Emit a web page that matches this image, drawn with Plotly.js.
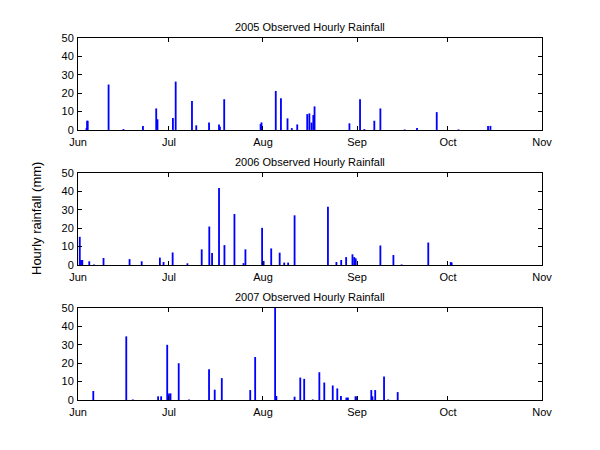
<!DOCTYPE html>
<html>
<head>
<meta charset="utf-8">
<script src="https://cdn.plot.ly/plotly-3.0.1.min.js"></script>
<style>body{margin:0;background:#fff}</style>
</head>
<body>
<div id="chart" style="width:600px;height:450px"></div>
<script>
/* hourly rainfall, mm */
var dates2005 = ['2005-06-03 19:00','2005-06-04 00:00','2005-06-04 05:00','2005-06-11 02:00','2005-06-16 00:00',
    '2005-06-22 10:00','2005-06-26 19:00','2005-06-27 05:00','2005-07-02 07:00','2005-07-03 05:00',
    '2005-07-08 14:00','2005-07-10 00:00','2005-07-14 05:00','2005-07-17 12:00','2005-07-17 19:00',
    '2005-07-19 05:00','2005-07-31 05:00','2005-07-31 12:00','2005-08-05 05:00','2005-08-06 22:00',
    '2005-08-09 02:00','2005-08-10 12:00','2005-08-12 07:00','2005-08-15 14:00','2005-08-16 07:00',
    '2005-08-17 00:00','2005-08-17 14:00','2005-08-18 00:00','2005-08-29 12:00','2005-09-02 00:00',
    '2005-09-03 10:00','2005-09-06 17:00','2005-09-08 17:00','2005-09-16 17:00','2005-09-20 19:00',
    '2005-09-27 07:00','2005-10-04 12:00','2005-10-14 05:00','2005-10-15 00:00'];
var rain2005 = [1.0, 5.0, 5.0, 24.7, 0.5,
    2.2, 11.7, 5.8, 6.5, 26.3,
    15.8, 2.5, 4.1, 3.0, 1.8,
    16.7, 3.2, 4.1, 21.2, 17.3,
    6.3, 1.0, 3.0, 8.6, 9.0,
    4.0, 8.1, 12.8, 3.6, 16.7,
    0.5, 5.0, 11.7, 0.3, 1.0,
    9.7, 0.3, 2.2, 2.2];

var dates2006 = ['2006-06-01 14:00','2006-06-02 00:00','2006-06-02 10:00','2006-06-04 17:00','2006-06-06 07:00',
    '2006-06-09 10:00','2006-06-18 00:00','2006-06-22 00:00','2006-06-28 00:00','2006-06-29 05:00',
    '2006-07-02 05:00','2006-07-07 02:00','2006-07-11 19:00','2006-07-14 07:00','2006-07-15 05:00',
    '2006-07-17 12:00','2006-07-19 07:00','2006-07-22 14:00','2006-07-25 14:00','2006-07-26 05:00',
    '2006-07-31 17:00','2006-08-01 05:00','2006-08-03 17:00','2006-08-06 12:00','2006-08-08 00:00',
    '2006-08-09 07:00','2006-08-11 10:00','2006-08-22 10:00','2006-08-25 05:00','2006-08-26 19:00',
    '2006-08-28 10:00','2006-08-30 12:00','2006-08-31 02:00','2006-08-31 14:00','2006-09-08 17:00',
    '2006-09-13 00:00','2006-09-15 17:00','2006-09-24 12:00','2006-10-01 22:00','2006-10-02 05:00'];
var rain2006 = [15.3, 2.7, 2.7, 2.0, 0.3,
    3.8, 3.2, 2.0, 4.0, 1.6,
    6.8, 0.9, 8.5, 20.9, 6.5,
    41.9, 10.8, 27.7, 1.0, 8.5,
    20.2, 2.2, 9.0, 6.7, 1.3,
    1.3, 27.0, 31.7, 1.6, 2.7,
    4.3, 5.8, 4.3, 3.6, 10.6,
    5.4, 0.3, 12.2, 1.6, 1.3];

var dates2007 = ['2007-06-06 01:00','2007-06-16 22:00','2007-06-19 02:00','2007-06-27 10:00','2007-06-28 10:00',
    '2007-06-30 10:00','2007-07-01 00:00','2007-07-01 12:00','2007-07-04 05:00','2007-07-07 14:00',
    '2007-07-14 05:00','2007-07-16 02:00','2007-07-18 10:00','2007-07-27 19:00','2007-07-29 10:00',
    '2007-08-05 00:00','2007-08-05 10:00','2007-08-11 10:00','2007-08-13 07:00','2007-08-14 14:00',
    '2007-08-17 10:00','2007-08-19 14:00','2007-08-21 05:00','2007-08-24 00:00','2007-08-25 12:00',
    '2007-08-26 17:00','2007-08-28 12:00','2007-08-29 00:00','2007-08-31 12:00','2007-09-01 00:00',
    '2007-09-05 17:00','2007-09-06 02:00','2007-09-07 00:00','2007-09-09 22:00','2007-09-11 07:00',
    '2007-09-14 10:00'];
var rain2007 = [4.9, 34.6, 0.3, 2.0, 2.0,
    30.0, 3.6, 3.6, 20.0, 0.3,
    16.7, 5.6, 11.9, 5.4, 23.4,
    50.0, 2.2, 1.8, 12.2, 11.5,
    0.3, 15.1, 9.5, 7.9, 6.3,
    2.2, 1.3, 1.3, 2.0, 2.0,
    5.4, 2.0, 5.4, 12.8, 0.3,
    4.3];

var years = ['2005', '2006', '2007'];
var allDates = [dates2005, dates2006, dates2007];
var allRain = [rain2005, rain2006, rain2007];
var yTicks = [0, 10, 20, 30, 40, 50];

var font = 'Liberation Sans, Arial, sans-serif';
var domains = [[0.746, 1], [0.373, 0.627], [0, 0.254]];
var barWidth = 0.6 * 24 * 3600 * 1000;

var data = [];
var layout = {
    width: 600,
    height: 450,
    margin: { l: 78, r: 58, t: 38, b: 50 },
    showlegend: false,
    paper_bgcolor: '#ffffff',
    plot_bgcolor: '#ffffff',
    font: { family: font, size: 11, color: '#000' },
    annotations: []
};

for (var i = 0; i < years.length; i++) {
    var n = i == 0 ? '' : String(i + 1);
    data.push({
        type: 'bar',
        x: allDates[i],
        y: allRain[i],
        width: barWidth,
        marker: { color: '#0000ff', line: { width: 0 } },
        xaxis: 'x' + n,
        yaxis: 'y' + n
    });

    layout['xaxis' + n] = {
        type: 'date',
        range: [years[i] + '-06-01', years[i] + '-11-01'],
        tick0: years[i] + '-06-01',
        dtick: 'M1',
        tickformat: '%b',
        anchor: 'y' + n,
        showgrid: false,
        zeroline: false,
        showline: true,
        linecolor: '#000',
        linewidth: 1,
        mirror: 'ticks',
        ticks: 'inside',
        ticklen: 4,
        tickcolor: '#000',
        ticklabelstandoff: 2,
        tickfont: { family: font, size: 11, color: '#000' }
    };
    layout['yaxis' + n] = {
        domain: domains[i],
        range: [0, 50],
        tickvals: yTicks,
        anchor: 'x' + n,
        showgrid: false,
        zeroline: false,
        showline: true,
        linecolor: '#000',
        linewidth: 1,
        mirror: 'ticks',
        ticks: 'inside',
        ticklen: 4,
        tickcolor: '#000',
        ticklabelstandoff: 1,
        tickfont: { family: font, size: 11, color: '#000' }
    };

    layout.annotations.push({
        text: years[i] + ' Observed Hourly Rainfall',
        xref: 'paper', yref: 'paper',
        x: 0.5, y: domains[i][1],
        xanchor: 'center', yanchor: 'bottom',
        yshift: 3,
        showarrow: false,
        font: { family: font, size: 11, color: '#000' }
    });
}

layout.annotations.push({
    text: 'Hourly rainfall (mm)',
    xref: 'paper', yref: 'paper',
    x: 0, y: 0.5,
    xshift: -42,
    xanchor: 'center', yanchor: 'middle',
    textangle: -90,
    showarrow: false,
    font: { family: font, size: 13, color: '#000' }
});

var config = { staticPlot: true, displaylogo: false };

Plotly.newPlot('chart', data, layout, config);
</script>
</body>
</html>
